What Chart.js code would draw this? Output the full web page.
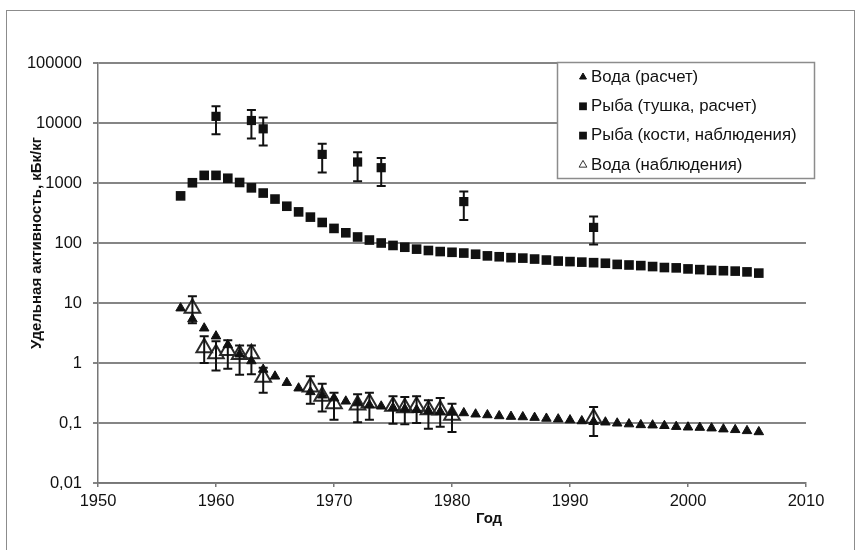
<!DOCTYPE html>
<html>
<head>
<meta charset="utf-8">
<title>Удельная активность</title>
<script src="https://cdn.jsdelivr.net/npm/chart.js@4.4.1/dist/chart.umd.min.js"></script>
<style>
  body { margin: 0; background: #fff; }
  #wrap { position: relative; width: 868px; height: 550px; overflow: hidden; }
  #frame { position: absolute; left: 6px; top: 10px; width: 847px; height: 560px; border: 1px solid #8c8c8c; }
  #chart { position: absolute; left: 0; top: 0; }
</style>
</head>
<body>
<div id="wrap">
  <div id="frame"></div>
  <canvas id="chart" width="868" height="550"></canvas>
</div>
<script>
// годы для расчетных рядов
const calcYears = [1957, 1958, 1959, 1960, 1961, 1962, 1963, 1964, 1965, 1966,
  1967, 1968, 1969, 1970, 1971, 1972, 1973, 1974, 1975, 1976,
  1977, 1978, 1979, 1980, 1981, 1982, 1983, 1984, 1985, 1986,
  1987, 1988, 1989, 1990, 1991, 1992, 1993, 1994, 1995, 1996,
  1997, 1998, 1999, 2000, 2001, 2002, 2003, 2004, 2005, 2006];

// вода, расчет (кБк/кг)
const waterCalc = [8.2, 5.4, 3.8, 2.8, 2.0, 1.4, 1.08, 0.78, 0.6, 0.47,
  0.38, 0.33, 0.29, 0.26, 0.23, 0.215, 0.2, 0.19, 0.18, 0.172,
  0.166, 0.16, 0.155, 0.15, 0.147, 0.14, 0.136, 0.131, 0.128, 0.126,
  0.123, 0.119, 0.116, 0.112, 0.108, 0.105, 0.103, 0.099, 0.096, 0.093,
  0.092, 0.09, 0.087, 0.085, 0.084, 0.082, 0.079, 0.077, 0.074, 0.071];

// рыба (тушка), расчет
const fishCalc = [610, 1010, 1340, 1340, 1200, 1020, 830, 680, 540, 410,
  330, 270, 220, 175, 148, 126, 112, 100, 91, 85,
  79, 75, 72, 70, 68, 65, 61, 59, 57, 56,
  54, 52, 50, 49, 48, 47, 46, 44, 43, 42,
  40.5, 39, 38.5, 37, 36, 35, 34.5, 34, 33, 31.5];

// рыба (кости), наблюдения с интервалами
const fishObsYears = [1960, 1963, 1964, 1969, 1972, 1974, 1981, 1992];
const fishObs = [12900, 11000, 8000, 3000, 2240, 1800, 490, 182];
const fishObsLow = [6500, 5500, 4200, 1500, 1070, 890, 242, 94];
const fishObsHigh = [19000, 16500, 12400, 4500, 3250, 2600, 725, 277];

// вода, наблюдения с интервалами
const waterObsYears = [1958, 1959, 1960, 1961, 1962, 1963, 1964, 1968, 1969, 1970,
  1972, 1973, 1975, 1976, 1977, 1978, 1979, 1980, 1992];
const waterObs = [8.2, 1.8, 1.43, 1.62, 1.38, 1.43, 0.58, 0.4, 0.28, 0.21,
  0.2, 0.215, 0.19, 0.18, 0.19, 0.167, 0.164, 0.135, 0.12];
const waterObsLow = [4.6, 1.0, 0.75, 0.8, 0.64, 0.65, 0.32, 0.21, 0.156, 0.113,
  0.103, 0.113, 0.097, 0.095, 0.1, 0.08, 0.087, 0.071, 0.061];
const waterObsHigh = [13, 2.8, 2.3, 2.4, 1.96, 1.96, 0.83, 0.6, 0.45, 0.32,
  0.3, 0.32, 0.28, 0.27, 0.28, 0.24, 0.26, 0.21, 0.185];

const seriesNames = ['Вода (расчет)', 'Рыба (тушка, расчет)', 'Рыба (кости, наблюдения)', 'Вода (наблюдения)'];
const yTickValues = [0.01, 0.1, 1, 10, 100, 1000, 10000, 100000];
const yTickLabels = ['0,01', '0,1', '1', '10', '100', '1000', '10000', '100000'];
const xTickValues = [1950, 1960, 1970, 1980, 1990, 2000, 2010];
const yTitle = 'Удельная активность, кБк/кг';
const xTitle = 'Год';

const FONT = "'Liberation Sans', Arial, sans-serif";
const INK = '#111';

function toPoints(xs, ys) {
  return xs.map((x, i) => ({ x: x, y: ys[i] }));
}

// вертикальные планки погрешностей с засечками
const errorBars = {
  id: 'errorBars',
  afterDatasetsDraw(chart) {
    const ctx = chart.ctx;
    const xs = chart.scales.x, ys = chart.scales.y;
    chart.data.datasets.forEach((ds) => {
      if (!ds.errLow) return;
      ctx.save();
      ctx.strokeStyle = '#111';
      ctx.lineWidth = 2;
      ds.data.forEach((p, j) => {
        const px = xs.getPixelForValue(p.x);
        const top = ys.getPixelForValue(ds.errHigh[j]);
        const bot = ys.getPixelForValue(ds.errLow[j]);
        ctx.beginPath();
        ctx.moveTo(px, top); ctx.lineTo(px, bot);
        ctx.moveTo(px - 4.5, top); ctx.lineTo(px + 4.5, top);
        ctx.moveTo(px - 4.5, bot); ctx.lineTo(px + 4.5, bot);
        ctx.stroke();
      });
      ctx.restore();
    });
  }
};

// легенда в рамке и подписи осей
const boxLegend = {
  id: 'boxLegend',
  afterDraw(chart) {
    const ctx = chart.ctx;
    ctx.save();
    ctx.fillStyle = '#fff';
    ctx.fillRect(557, 62, 257, 116);
    ctx.strokeStyle = '#8c8c8c';
    ctx.lineWidth = 1.5;
    ctx.strokeRect(557.5, 62.5, 257, 116);

    const legendMarks = [
      { pointStyle: 'triangle', radius: 4, fill: '#111', border: '#111', borderWidth: 1 },
      { pointStyle: 'rect', radius: 5.5, fill: '#111', border: '#111', borderWidth: 0 },
      { pointStyle: 'rect', radius: 5.5, fill: '#111', border: '#111', borderWidth: 0 },
      { pointStyle: 'triangle', radius: 4.5, fill: 'rgba(0,0,0,0)', border: '#333', borderWidth: 1 }
    ];
    ctx.font = '16.8px ' + FONT;
    ctx.textBaseline = 'middle';
    ctx.textAlign = 'left';
    seriesNames.forEach((name, i) => {
      const y = 77 + i * 29.3;
      const m = legendMarks[i];
      ctx.fillStyle = m.fill;
      ctx.strokeStyle = m.border;
      ctx.lineWidth = m.borderWidth;
      Chart.helpers.drawPoint(ctx, { pointStyle: m.pointStyle, radius: m.radius, rotation: 0, borderWidth: m.borderWidth }, 583, y);
      ctx.fillStyle = INK;
      ctx.fillText(name, 591, y);
    });

    ctx.fillStyle = INK;
    ctx.font = 'bold 15px ' + FONT;
    ctx.textAlign = 'center';
    ctx.fillText(xTitle, 489, 519);
    ctx.translate(37, 243);
    ctx.rotate(-Math.PI / 2);
    ctx.fillText(yTitle, 0, 0);
    ctx.restore();
  }
};

new Chart(document.getElementById('chart'), {
  type: 'scatter',
  data: {
    datasets: [
      {
        label: seriesNames[0],
        data: toPoints(calcYears, waterCalc),
        pointStyle: 'triangle',
        pointRadius: 5.5,
        backgroundColor: '#111',
        borderColor: '#111',
        borderWidth: 1
      },
      {
        label: seriesNames[1],
        data: toPoints(calcYears, fishCalc),
        pointStyle: 'rect',
        pointRadius: 6.8,
        backgroundColor: '#111',
        borderColor: '#111',
        borderWidth: 0
      },
      {
        label: seriesNames[2],
        data: toPoints(fishObsYears, fishObs),
        errLow: fishObsLow,
        errHigh: fishObsHigh,
        pointStyle: 'rect',
        pointRadius: 6.5,
        backgroundColor: '#111',
        borderColor: '#111',
        borderWidth: 0
      },
      {
        label: seriesNames[3],
        data: toPoints(waterObsYears, waterObs),
        errLow: waterObsLow,
        errHigh: waterObsHigh,
        pointStyle: 'triangle',
        pointRadius: 9,
        backgroundColor: 'rgba(0,0,0,0)',
        borderColor: '#2a2a2a',
        borderWidth: 2
      }
    ]
  },
  options: {
    responsive: false,
    maintainAspectRatio: false,
    animation: false,
    devicePixelRatio: 1,
    layout: { padding: { left: 0, top: 63, right: 62, bottom: 0 } },
    plugins: {
      legend: { display: false },
      tooltip: { enabled: false }
    },
    scales: {
      x: {
        type: 'linear',
        min: 1950,
        max: 2010,
        afterBuildTicks: (s) => { s.ticks = xTickValues.map(v => ({ value: v })); },
        afterFit: (s) => { s.height = 67; },
        ticks: {
          padding: 5,
          color: INK,
          font: { family: FONT, size: 16.5 },
          callback: (v) => String(v)
        },
        grid: { drawOnChartArea: false, drawTicks: true, tickLength: 4, color: '#777', lineWidth: 1.5 },
        border: { color: '#777', width: 1.5 }
      },
      y: {
        type: 'logarithmic',
        min: 0.01,
        max: 100000,
        afterBuildTicks: (s) => { s.ticks = yTickValues.map(v => ({ value: v })); },
        afterFit: (s) => { s.width = 98; },
        ticks: {
          padding: 11,
          color: INK,
          font: { family: FONT, size: 16.5 },
          callback: (v) => yTickLabels[yTickValues.indexOf(v)]
        },
        grid: { color: '#858585', lineWidth: 2, tickLength: 5 },
        border: { color: '#777', width: 1.5 }
      }
    }
  },
  plugins: [errorBars, boxLegend]
});
</script>
</body>
</html>
